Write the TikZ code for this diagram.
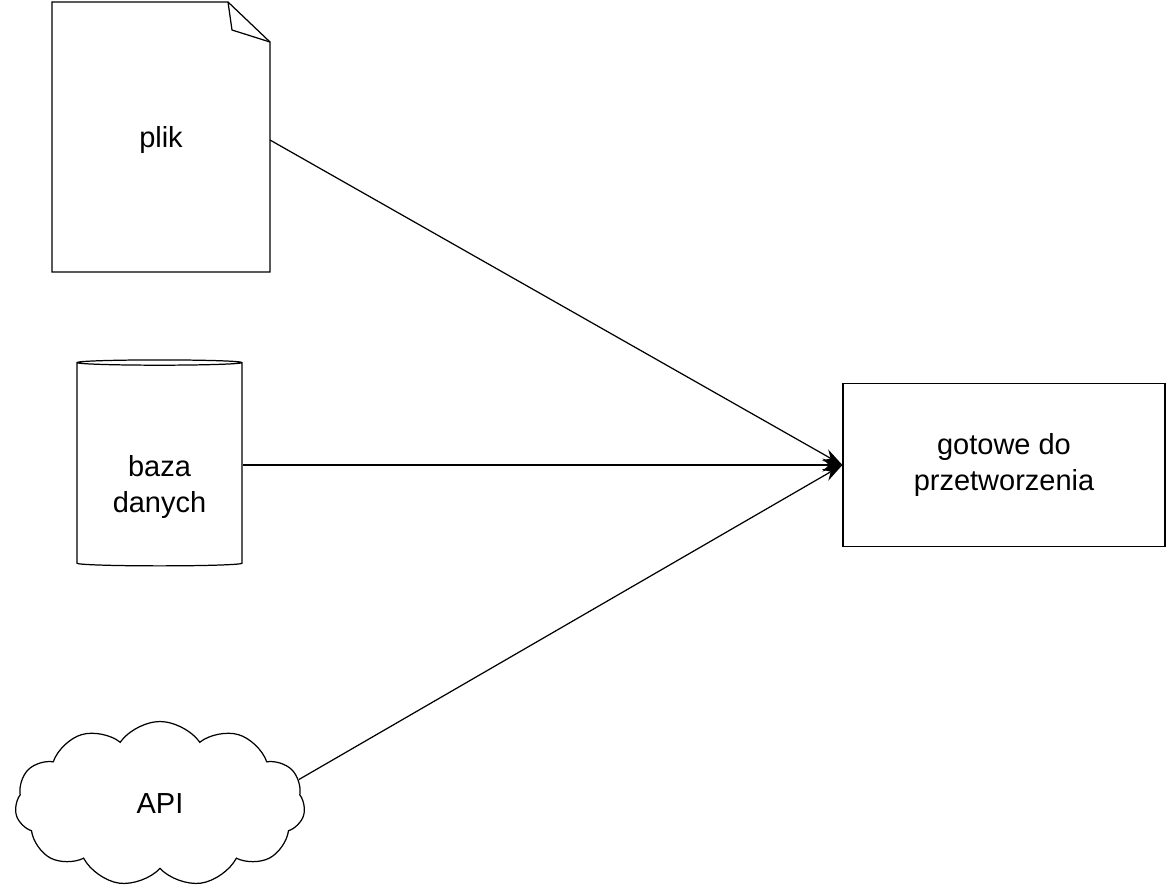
\documentclass[tikz,border=0pt]{standalone}
\usepackage{fontspec}
\setmainfont{Liberation Sans}
\usetikzlibrary{shapes.geometric,shapes.symbols,arrows.meta}
\tikzset{
	lbl/.style={font=\fontsize{16.5}{20}\selectfont, align=center},
	flow/.style={-{Stealth[length=4mm,width=2.6mm]}}
}
\begin{document}
\begin{tikzpicture}[x=0.02cm,y=-0.02cm,line width=0.7pt]
	
	\useasboundingbox (0,0) rectangle (1167,896);
	
	% plik
	\draw (52,2) -- (228,2) -- (270,42) -- (270,272) -- (52,272) -- cycle;
	\draw (228,2) -- (232,30) -- (270,42);
	\node [lbl] (plik) at (161,140) {plik};
	\coordinate (plikOut) at (270,140);
	
	% baza danych
	\node [draw, cylinder, shape border rotate=90, aspect=0.45,
		minimum width=3.3cm, minimum height=4.12cm] (baza) at (159.5,465) {};
	\node [lbl] (bazaTxt) at (159.5,487) {baza\\danych};
	
	% API
	\node [draw, cloud, cloud puffs=11, cloud puff arc=110, aspect=1.7,
		minimum width=5.8cm, minimum height=3.3cm, lbl] (api) at (160,804) {API};
	
	% cel
	\node [draw, lbl, minimum width=6.44cm, minimum height=3.26cm] (cel) at (1004,465) {gotowe do\\przetworzenia};
	
	\draw [flow] (plikOut) -- (cel.west);
	\draw [flow] (baza.east) -- (cel.west);
	\draw [flow] (api.10) -- (cel.west);
	
\end{tikzpicture}
\end{document}
